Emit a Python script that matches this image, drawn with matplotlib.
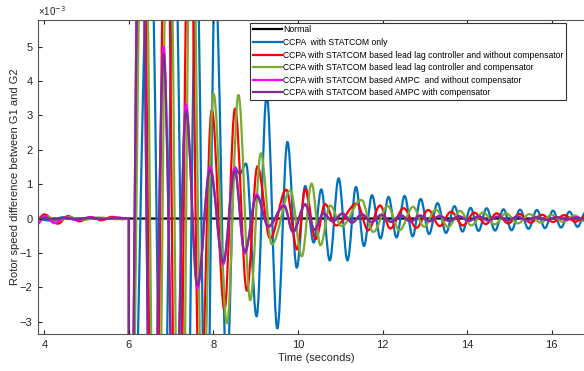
import matplotlib
matplotlib.use("Agg")
import matplotlib.pyplot as plt
from matplotlib.path import Path
from matplotlib.patches import PathPatch
from matplotlib.lines import Line2D

plt.rcParams['font.family'] = ['Liberation Sans', 'DejaVu Sans']

normal_t = [3.85, 17.0]
normal_v = [0.0, 0.0]

only_t = [3.85, 4.15, 4.45, 4.75, 5.05, 5.35, 5.65, 5.98, 6.0, 6.0,
          6.51, 6.8, 7.08, 7.35, 7.6, 7.83, 8.04, 8.32, 8.5, 8.62, 8.77,
          9.02, 9.26, 9.51, 9.75, 9.97, 10.17, 10.37, 10.55, 10.75, 10.96,
          11.17, 11.37, 11.56, 11.75, 11.95, 12.14, 12.33, 12.52, 12.71, 12.9,
          13.1, 13.3, 13.5, 13.7, 13.89, 14.08, 14.27, 14.46, 14.66, 14.86,
          15.05, 15.25, 15.45, 15.65, 15.84, 16.03, 16.22, 16.42, 16.61, 16.8, 17.0]
only_v = [-0.02, -0.06, 0.04, -0.04, 0.03, -0.02, 0.03, 0.0, 0.0, -11.0,
          9.0, -9.0, 9.0, -9.0, 8.0, -8.0, 7.0, -4.5, 1.5, 1.3, 1.6,
          -2.85, 3.6, -3.2, 2.23, -1.43, 0.95, -0.7, 0.85, -1.22, 1.17,
          -1.22, 0.92, -0.8, 0.68, -0.58, 0.63, -0.55, 0.66, -0.52, 0.57,
          -0.45, 0.45, -0.42, 0.36, -0.38, 0.31, -0.36, 0.30, -0.35, 0.27,
          -0.34, 0.26, -0.30, 0.25, -0.28, 0.23, -0.26, 0.20, -0.24, 0.18, -0.2]

leadlag_t = [3.85, 4.0, 4.32, 4.56, 4.83, 5.1, 5.35, 5.6, 5.85, 6.0, 6.0,
             6.3, 6.6, 6.88, 7.15, 7.43, 7.68, 7.96, 8.26, 8.51, 8.79,
             9.04, 9.34, 9.72, 9.98, 10.17, 10.42, 10.64, 10.9, 11.39, 11.66,
             11.94, 12.18, 12.5, 12.8, 13.08, 13.35, 13.62, 13.9, 14.17, 14.44,
             14.7, 14.97, 15.24, 15.5, 15.77, 16.03, 16.3, 16.56, 16.82, 17.0]
leadlag_v = [0.0, 0.12, -0.15, 0.07, -0.08, 0.04, -0.05, 0.05, -0.02, 0.0, -12.0,
             12.0, -12.0, 12.0, -12.0, 11.0, -6.0, 3.16, -2.65, 3.2, -2.1,
             1.52, -0.58, 0.84, -0.9, 0.85, -0.6, 0.42, -0.2, 0.44, -0.34,
             0.38, -0.29, 0.3, -0.27, 0.25, -0.22, 0.2, -0.2, 0.17, -0.16,
             0.15, -0.14, 0.13, -0.12, 0.11, -0.1, 0.1, -0.09, 0.08, 0.0]

leadlag_comp_t = [3.85, 4.05, 4.3, 4.6, 4.9, 5.3, 5.7, 6.0, 6.0,
                  6.35, 6.65, 6.94, 7.22, 7.48, 7.74, 8.0, 8.32, 8.59, 8.87,
                  9.12, 9.38, 9.82, 10.09, 10.32, 10.53, 10.76, 11.03, 11.5, 11.78,
                  12.12, 12.4, 12.72, 12.98, 13.26, 13.55, 13.83, 14.1, 14.38, 14.65,
                  14.92, 15.2, 15.47, 15.74, 16.0, 16.27, 16.54, 16.8, 17.0]
leadlag_comp_v = [0.0, 0.06, -0.08, 0.04, -0.04, 0.03, -0.02, 0.0, -12.0,
                  12.0, -12.0, 12.0, -12.0, 11.0, -6.0, 3.64, -3.05, 3.6, -2.38,
                  1.9, -0.75, 0.82, -1.1, 1.02, -0.78, 0.38, -0.22, 0.54, -0.39,
                  0.36, -0.34, 0.34, -0.24, 0.26, -0.25, 0.22, -0.2, 0.18, -0.17,
                  0.15, -0.14, 0.13, -0.12, 0.11, -0.1, 0.09, -0.08, 0.0]

ampc_t = [3.85, 4.0, 4.24, 4.5, 4.8, 5.1, 5.4, 5.7, 6.0, 6.0,
          6.27, 6.55, 6.82, 7.08, 7.35, 7.62, 7.92, 8.23, 8.5, 8.74,
          9.02, 9.3, 9.67, 9.88, 10.17, 10.39, 10.6, 10.82, 11.05, 11.28,
          11.51, 11.74, 11.97, 12.2, 12.43, 12.66, 12.89, 13.12, 13.35, 13.58,
          13.81, 14.04, 14.27, 14.5, 14.73, 14.96, 15.19, 15.42, 15.65, 15.88,
          16.11, 16.34, 16.57, 16.8, 17.0]
ampc_v = [-0.15, 0.07, -0.13, 0.03, -0.04, 0.03, -0.02, 0.03, 0.0, -12.0,
          12.0, -10.0, 5.0, -7.0, 3.32, -2.04, 1.5, -1.33, 1.46, -1.02,
          0.7, -0.24, 0.39, -0.4, 0.42, -0.34, 0.15, -0.08, 0.15, -0.12,
          0.13, -0.11, 0.11, -0.1, 0.1, -0.09, 0.09, -0.08, 0.08, -0.07,
          0.07, -0.07, 0.06, -0.06, 0.06, -0.05, 0.05, -0.05, 0.05, -0.04,
          0.04, -0.04, 0.04, -0.03, 0.0]

ampc_comp_t = ampc_t
ampc_comp_v = [0.0, 0.02, -0.03, 0.02, -0.02, 0.02, -0.01, 0.01, 0.0, -12.0,
               12.0, -10.0, 4.8, -7.0, 3.15, -1.95, 1.42, -1.27, 1.38, -0.97,
               0.65, -0.22, 0.36, -0.38, 0.4, -0.32, 0.14, -0.08, 0.14, -0.11,
               0.12, -0.1, 0.1, -0.09, 0.09, -0.08, 0.08, -0.07, 0.07, -0.07,
               0.06, -0.06, 0.06, -0.05, 0.05, -0.05, 0.05, -0.04, 0.04, -0.04,
               0.04, -0.03, 0.03, -0.03, 0.0]

labels = ['Normal',
          'CCPA  with STATCOM only',
          'CCPA with STATCOM based lead lag controller and without compensator',
          'CCPA with STATCOM based lead lag controller and compensator',
          'CCPA with STATCOM based AMPC  and without compensator',
          'CCPA with STATCOM based AMPC with compensator']
colors = ['black', '#0072BD', '#FF0000', '#77AC30', '#FF00FF', '#7E2F8E']
series = [(normal_t, normal_v), (only_t, only_v), (leadlag_t, leadlag_v),
          (leadlag_comp_t, leadlag_comp_v), (ampc_t, ampc_v), (ampc_comp_t, ampc_comp_v)]


def swing_path(ts, vs, k=0.36):
    # cubic pieces with flat tangents at every turning point
    verts = [(ts[0], vs[0])]
    codes = [Path.MOVETO]
    for i in range(1, len(ts)):
        dt = ts[i] - ts[i - 1]
        verts += [(ts[i - 1] + k * dt, vs[i - 1]), (ts[i] - k * dt, vs[i]), (ts[i], vs[i])]
        codes += [Path.CURVE4] * 3
    return Path(verts, codes)


fig = plt.figure(figsize=(5.84, 3.71), dpi=100)
ax = fig.add_axes([38 / 584, 1 - 334.3 / 371, 556 / 584, 314.3 / 371])

handles = []
for (ts, vs), c, lab in zip(series, colors, labels):
    ax.add_patch(PathPatch(swing_path(ts, vs), facecolor='none', edgecolor=c,
                           lw=1.6, joinstyle='round', capstyle='round'))
    handles.append(Line2D([0], [0], color=c, lw=1.6))

ax.set_xlim(3.85, 17.0)
ax.set_ylim(-3.37, 5.78)
ax.set_xticks([4, 6, 8, 10, 12, 14, 16])
ax.set_yticks([-3, -2, -1, 0, 1, 2, 3, 4, 5])
ax.tick_params(direction='in', top=True, right=True, length=3, labelsize=8,
               colors='#262626', pad=4)
for s in ax.spines.values():
    s.set_color('#555555')
    s.set_linewidth(0.8)

ax.set_xlabel('Time (seconds)', fontsize=8, color='#262626', labelpad=2)
ax.set_ylabel('Rotor speed difference between G1 and G2', fontsize=8, color='#262626', labelpad=0)
ax.text(0, 1.005, '×10$^{-3}$', transform=ax.transAxes, fontsize=7, color='#262626',
        ha='left', va='bottom')

leg = ax.legend(handles, labels, loc='upper left', bbox_to_anchor=(250 / 584, 1 - 22.7 / 371),
                bbox_transform=fig.transFigure, fontsize=6.2, handlelength=3.4,
                handletextpad=0.15, labelspacing=0.42, borderpad=0.3, borderaxespad=0,
                fancybox=False, framealpha=1)
leg.get_frame().set_edgecolor('#333333')
leg.get_frame().set_linewidth(0.8)

fig.savefig('out.png', dpi=100)
